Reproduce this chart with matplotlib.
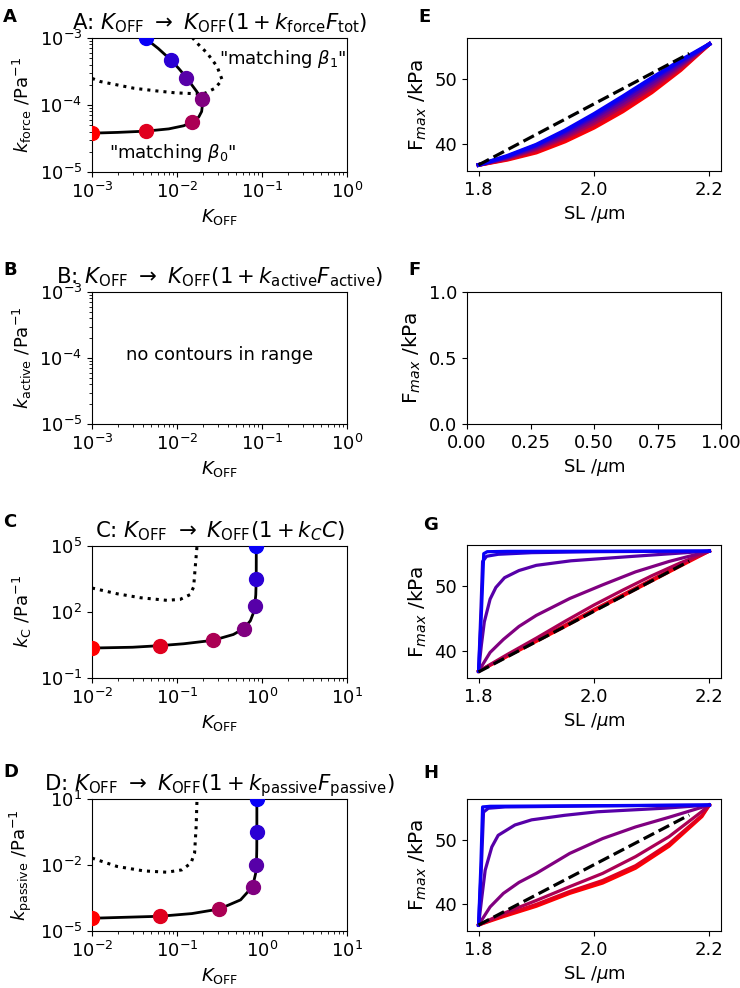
import matplotlib
matplotlib.use("Agg")
import matplotlib.pyplot as plt
from matplotlib.ticker import NullLocator

plt.rcParams['font.family'] = ['DejaVu Sans']
plt.rcParams['font.size'] = 13
plt.rcParams['mathtext.fontset'] = 'dejavusans'

# ---------------- data ----------------
color_t = [0.0, 0.12, 0.33, 0.5, 0.66, 0.83, 0.97]

# Panel A
a_line_x = [1e-3, 2e-3, 4.3e-3, 8e-3, 0.012, 0.015, 0.018, 0.0195, 0.0199, 0.0195, 0.017, 0.0145, 0.0129, 0.0105, 0.0085, 0.006, 0.0042]
a_line_y = [3.8e-5, 3.9e-5, 4.07e-5, 4.4e-5, 4.9e-5, 5.6e-5, 6.6e-5, 8e-5, 1.0e-4, 1.22e-4, 1.6e-4, 2.1e-4, 2.57e-4, 3.5e-4, 4.68e-4, 7e-4, 1e-3]
a_mark_x = [1e-3, 4.3e-3, 0.015, 0.0195, 0.0129, 0.0085, 0.0043]
a_mark_y = [3.85e-5, 4.07e-5, 5.6e-5, 1.22e-4, 2.57e-4, 4.68e-4, 1e-3]
a_dot_x = [1e-3, 1.25e-3, 3.1e-3, 5.8e-3, 0.0095, 0.017, 0.0214, 0.028, 0.034, 0.0296, 0.0226, 0.0172, 0.0153]
a_dot_y = [2.5e-4, 2.24e-4, 1.78e-4, 1.62e-4, 1.52e-4, 1.47e-4, 1.5e-4, 1.78e-4, 2.37e-4, 3.76e-4, 5.96e-4, 8.4e-4, 1e-3]

# Panel C
c_line_x = [0.01, 0.03, 0.0625, 0.12, 0.265, 0.46, 0.608, 0.73, 0.8, 0.82, 0.845, 0.855, 0.857]
c_line_y = [2.3, 2.5, 2.95, 3.6, 5.15, 9.5, 17.5, 40, 100, 181, 600, 3000, 1e5]
c_mark_x = [0.01, 0.0625, 0.265, 0.608, 0.82, 0.857, 0.857]
c_mark_y = [2.3, 2.95, 5.15, 17.5, 181, 3055, 1e5]
c_dot_x = [0.01, 0.0197, 0.037, 0.076, 0.109, 0.143, 0.157, 0.164, 0.172]
c_dot_y = [1230, 675, 446, 339, 376, 620, 1380, 11300, 1e5]

# Panel D
d_line_x = [0.01, 0.0625, 0.15, 0.315, 0.56, 0.776, 0.84, 0.86, 0.868, 0.87, 0.87]
d_line_y = [3.8e-5, 4.67e-5, 6.2e-5, 1e-4, 2.6e-4, 1.05e-3, 4e-3, 9.9e-3, 0.05, 0.33, 10]
d_mark_x = [0.01, 0.0625, 0.315, 0.776, 0.85, 0.87, 0.87]
d_mark_y = [3.8e-5, 4.67e-5, 1e-4, 1.05e-3, 9.9e-3, 0.33, 10]
d_dot_x = [0.01, 0.0197, 0.0405, 0.076, 0.114, 0.146, 0.161, 0.168, 0.172]
d_dot_y = [0.0206, 8.6e-3, 5.4e-3, 4.7e-3, 6.0e-3, 0.0122, 0.035, 0.57, 10]

# Panel E (Fmax vs SL), curves red -> blue
e_sl = [1.8, 1.85, 1.9, 1.95, 2.0, 2.05, 2.1, 2.15, 2.2]
e_f = [
    [36.8, 37.6, 38.7, 40.4, 42.5, 45.0, 47.9, 51.3, 55.3],
    [36.8, 37.7, 38.9, 40.7, 42.8, 45.3, 48.2, 51.5, 55.3],
    [36.8, 37.8, 39.2, 41.0, 43.2, 45.8, 48.6, 51.8, 55.3],
    [36.8, 37.9, 39.4, 41.3, 43.6, 46.2, 49.0, 52.1, 55.3],
    [36.8, 38.0, 39.6, 41.6, 44.0, 46.6, 49.4, 52.3, 55.3],
    [36.8, 38.1, 39.8, 41.9, 44.3, 47.0, 49.8, 52.6, 55.3],
    [36.8, 38.2, 39.9, 42.1, 44.6, 47.3, 50.1, 52.8, 55.3],
]
ref_sl = [1.8, 2.165]
ref_f = [36.8, 53.85]

# Panel G
g_sl = [
    [1.8, 1.85, 1.9, 1.95, 2.0, 2.05, 2.1, 2.15, 2.2],
    [1.8, 1.85, 1.9, 1.95, 2.0, 2.05, 2.1, 2.15, 2.2],
    [1.8, 1.85, 1.9, 1.95, 2.0, 2.05, 2.1, 2.15, 2.2],
    [1.8, 1.82, 1.843, 1.87, 1.9, 1.958, 2.015, 2.072, 2.13, 2.2],
    [1.8, 1.805, 1.81, 1.82, 1.83, 1.845, 1.87, 1.9, 1.96, 2.07, 2.2],
    [1.8, 1.804, 1.807, 1.814, 1.834, 1.892, 2.0, 2.2],
    [1.8, 1.805, 1.809, 1.815, 1.85, 2.2],
]
g_f = [
    [36.9, 39.2, 41.5, 43.8, 46.2, 48.5, 50.8, 53.1, 55.4],
    [36.9, 39.3, 41.7, 44.0, 46.4, 48.7, 51.0, 53.3, 55.4],
    [36.9, 39.5, 42.0, 44.6, 47.1, 49.4, 51.6, 53.6, 55.4],
    [36.9, 39.8, 41.8, 43.8, 45.5, 48.1, 50.2, 52.2, 53.8, 55.4],
    [36.9, 41.0, 44.5, 48.0, 49.8, 51.3, 52.4, 53.2, 53.9, 54.6, 55.4],
    [36.9, 46.0, 53.8, 54.6, 54.9, 55.15, 55.3, 55.4],
    [36.9, 46.0, 55.0, 55.3, 55.35, 55.4],
]

# Panel H
h_sl = [
    [1.8, 1.843, 1.9, 1.958, 2.015, 2.072, 2.13, 2.187, 2.2],
    [1.8, 1.843, 1.9, 1.958, 2.015, 2.072, 2.13, 2.187, 2.2],
    [1.8, 1.843, 1.9, 1.958, 2.015, 2.072, 2.13, 2.187, 2.2],
    [1.8, 1.82, 1.843, 1.87, 1.9, 1.958, 2.015, 2.072, 2.13, 2.2],
    [1.8, 1.8057, 1.8115, 1.823, 1.834, 1.863, 1.892, 1.949, 2.006, 2.121, 2.2],
    [1.8, 1.805, 1.8086, 1.817, 1.846, 2.0, 2.2],
    [1.8, 1.804, 1.807, 1.82, 2.2],
]
h_f = [
    [36.8, 38.1, 39.7, 41.7, 43.3, 45.6, 49.0, 53.6, 55.4],
    [36.8, 38.3, 40.0, 42.0, 43.7, 46.0, 49.4, 53.8, 55.4],
    [36.8, 38.6, 40.6, 42.75, 44.8, 47.4, 50.5, 54.4, 55.4],
    [36.8, 39.6, 41.7, 43.4, 44.8, 47.9, 50.2, 52.0, 53.5, 55.4],
    [36.8, 41.1, 45.3, 48.9, 50.7, 52.3, 53.1, 53.8, 54.35, 54.9, 55.4],
    [36.8, 46.0, 54.3, 54.9, 55.1, 55.25, 55.4],
    [36.8, 46.0, 55.1, 55.2, 55.4],
]

colors = [(1 - t, 0.0, t) for t in color_t]

# ---------------- figure ----------------
fig = plt.figure(figsize=(7.4, 9.88), dpi=100)

W, H = 740.0, 988.0
def ax_at(x0, y0, x1, y1):
    return fig.add_axes([x0 / W, 1 - y1 / H, (x1 - x0) / W, (y1 - y0) / H])

axA = ax_at(92, 38, 347, 172)
axB = ax_at(92, 292, 347, 424)
axC = ax_at(92, 546, 347, 678)
axD = ax_at(92, 799, 347, 931)
axE = ax_at(467, 38, 721, 171)
axF = ax_at(467, 292, 721, 424)
axG = ax_at(467, 545, 721, 678)
axH = ax_at(467, 799, 721, 931)

title_fs = 15.3

def contour_panel(ax, lx, ly, mx, my, dx, dy, xlim, ylim):
    ax.set_xscale('log')
    ax.set_yscale('log')
    if dx is not None:
        ax.plot(dx, dy, ':', color='black', lw=2.2)
    if lx is not None:
        ax.plot(lx, ly, '-', color='black', lw=2, zorder=3)
        for xi, yi, c in zip(mx, my, colors):
            ax.plot([xi], [yi], 'o', color=c, ms=10, zorder=4)
    ax.set_xlim(*xlim)
    ax.set_ylim(*ylim)
    ax.set_xlabel(r'$K_{\rm OFF}$')

# A
contour_panel(axA, a_line_x, a_line_y, a_mark_x, a_mark_y, a_dot_x, a_dot_y, (1e-3, 1), (1e-5, 1e-3))
axA.set_ylabel(r'$k_{\rm force}$ /Pa$^{-1}$')
axA.set_title(r'A: $K_{\rm OFF}$ $\rightarrow$ $K_{\rm OFF}(1+k_{\rm force}F_{\rm tot})$', fontsize=title_fs)
axA.text(0.031, 4.8e-4, '"matching $\\beta_1$"', va='center', ha='left')
axA.text(1.57e-3, 1.9e-5, '"matching $\\beta_0$"', va='center', ha='left')

# B
contour_panel(axB, None, None, None, None, None, None, (1e-3, 1), (1e-5, 1e-3))
axB.set_ylabel(r'$k_{\rm active}$ /Pa$^{-1}$')
axB.set_title(r'B: $K_{\rm OFF}$ $\rightarrow$ $K_{\rm OFF}(1+k_{\rm active}F_{\rm active})$', fontsize=title_fs)
axB.text(0.5, 0.52, 'no contours in range', transform=axB.transAxes, ha='center', va='center')

# C
contour_panel(axC, c_line_x, c_line_y, c_mark_x, c_mark_y, c_dot_x, c_dot_y, (1e-2, 10), (1e-1, 1e5))
axC.set_yticks([1e-1, 1e2, 1e5])
axC.yaxis.set_minor_locator(NullLocator())
axC.set_ylabel(r'$k_{\rm C}$ /Pa$^{-1}$')
axC.set_title(r'C: $K_{\rm OFF}$ $\rightarrow$ $K_{\rm OFF}(1+k_C C)$', fontsize=title_fs)

# D
contour_panel(axD, d_line_x, d_line_y, d_mark_x, d_mark_y, d_dot_x, d_dot_y, (1e-2, 10), (1e-5, 1e1))
axD.set_yticks([1e-5, 1e-2, 1e1])
axD.yaxis.set_minor_locator(NullLocator())
axD.set_ylabel(r'$k_{\rm passive}$ /Pa$^{-1}$')
axD.set_title(r'D: $K_{\rm OFF}$ $\rightarrow$ $K_{\rm OFF}(1+k_{\rm passive}F_{\rm passive})$', fontsize=title_fs)

# right column
def curve_panel(ax, sls, fs, lw):
    for sl, f, c in zip(sls, fs, colors):
        ax.plot(sl, f, '-', color=c, lw=lw)
    ax.plot(ref_sl, ref_f, '--', color='black', lw=2.3, zorder=5)
    ax.set_xticks([1.8, 2.0, 2.2])
    ax.set_yticks([40, 50])
    ax.set_xlabel(r'SL /$\mu$m')
    ax.set_ylabel(r'F$_{max}$ /kPa', fontsize=14.5)

curve_panel(axE, [e_sl] * 7, e_f, 2.8)
curve_panel(axG, g_sl, g_f, 2.3)
curve_panel(axH, h_sl, h_f, 2.3)
axF.set_xlabel(r'SL /$\mu$m')
axF.set_ylabel(r'F$_{max}$ /kPa', fontsize=14.5)

# panel letters
for lab, (x, y) in {'A': (3, 22), 'B': (3, 275), 'C': (3, 527), 'D': (3, 777),
                    'E': (418, 22), 'F': (408, 275), 'G': (423, 530), 'H': (423, 778)}.items():
    fig.text(x / W, 1 - y / H, lab, fontsize=13, fontweight='bold', ha='left', va='baseline')

fig.savefig('out.png', dpi=100)
